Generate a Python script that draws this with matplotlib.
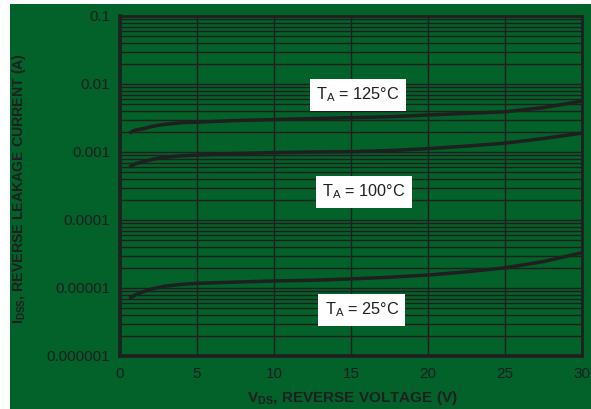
import matplotlib
matplotlib.use("Agg")
import matplotlib.pyplot as plt
from matplotlib.patches import Rectangle
from matplotlib.ticker import FixedLocator, FixedFormatter, LogLocator, NullFormatter

plt.rcParams['font.family'] = ['Liberation Sans', 'DejaVu Sans']
plt.rcParams['mathtext.fontset'] = 'custom'
plt.rcParams['mathtext.rm'] = 'Liberation Sans'
plt.rcParams['mathtext.bf'] = 'Liberation Sans:bold'
plt.rcParams['mathtext.it'] = 'Liberation Sans:italic'

# Drain-source reverse voltage (V)
v_ds = [0.6, 1, 1.5, 2, 2.5, 3, 4, 5, 7.5, 10, 12.5, 15, 17.5, 20, 22.5, 25, 27.5, 30]

# Reverse leakage current (A) at three ambient temperatures
i_125 = [0.0019, 0.0021, 0.0022, 0.00235, 0.00248, 0.00256, 0.0027, 0.00275, 0.0029, 0.0030,
         0.0031, 0.0032, 0.0033, 0.0035, 0.0037, 0.0039, 0.0045, 0.0056]
i_100 = [0.00060, 0.00067, 0.00072, 0.00077, 0.00081, 0.00084, 0.00088, 0.00090, 0.00095, 0.00098,
         0.00100, 0.00101, 0.00105, 0.00112, 0.00122, 0.00135, 0.00158, 0.00190]
i_25 = [7.0e-6, 7.9e-6, 8.8e-6, 9.6e-6, 1.02e-5, 1.07e-5, 1.13e-5, 1.17e-5, 1.22e-5, 1.27e-5,
        1.30e-5, 1.36e-5, 1.44e-5, 1.55e-5, 1.73e-5, 1.98e-5, 2.45e-5, 3.3e-5]

x_ticks = [0, 5, 10, 15, 20, 25, 30]
y_ticks = [1e-6, 1e-5, 1e-4, 1e-3, 1e-2, 1e-1]
y_tick_labels = ["0.000001", "0.00001", "0.0001", "0.001", "0.01", "0.1"]

curve_labels = ["T$_\\mathregular{A}$ = 125°C", "T$_\\mathregular{A}$ = 100°C", "T$_\\mathregular{A}$ = 25°C"]
label_pos = [(15.45, 0.0069), (15.85, 2.6e-4), (15.7, 4.75e-6)]

GREEN = "#03612a"
INK = "#1f1f1f"

fig = plt.figure(figsize=(5.91, 4.09), dpi=100, facecolor="white")
fig.patches.append(Rectangle((10 / 591, 0), 1 - 10 / 591, 1 - 4 / 409,
                             transform=fig.transFigure, facecolor=GREEN,
                             edgecolor="none", zorder=-10))

ax = fig.add_axes([120 / 591, (409 - 356) / 409, 462 / 591, 340 / 409])
ax.set_facecolor(GREEN)
ax.set_yscale("log")
ax.set_xlim(0, 30)
ax.set_ylim(1e-6, 1e-1)

ax.xaxis.set_major_locator(FixedLocator(x_ticks))
ax.yaxis.set_major_locator(FixedLocator(y_ticks))
ax.yaxis.set_major_formatter(FixedFormatter(y_tick_labels))
ax.yaxis.set_minor_locator(LogLocator(base=10, subs=range(2, 10)))
ax.yaxis.set_minor_formatter(NullFormatter())

ax.grid(True, which="major", axis="both", color=INK, linewidth=1.0)
ax.grid(True, which="minor", axis="y", color=INK, linewidth=1.0)
ax.set_axisbelow(True)

ax.tick_params(axis="both", which="both", length=0, labelsize=11, colors=INK)
ax.tick_params(axis="y", pad=7)
ax.tick_params(axis="x", pad=8)

for side, lw in (("left", 2.6), ("bottom", 2.6), ("top", 2.0), ("right", 2.0)):
    ax.spines[side].set_color(INK)
    ax.spines[side].set_linewidth(lw)

for series in (i_125, i_100, i_25):
    ax.plot(v_ds, series, color=INK, linewidth=2.5, solid_capstyle="butt",
            solid_joinstyle="round", zorder=3)

for text, (x, y) in zip(curve_labels, label_pos):
    ax.text(x, y, text, fontsize=11.7, color=INK, ha="center", va="center", zorder=4,
            bbox=dict(boxstyle="square,pad=0.4", facecolor="white", edgecolor="none"))

ax.set_xlabel("V$_\\mathbf{DS}$, REVERSE VOLTAGE (V)", fontsize=11,
              fontweight="bold", color=INK)
ax.set_ylabel("I$_\\mathbf{DSS}$, REVERSE LEAKAGE CURRENT (A)", fontsize=10.2,
              fontweight="bold", color=INK)
ax.xaxis.set_label_coords((352 - 120) / 462, (356 - 398) / 340)
ax.xaxis.label.set_va("center")
ax.yaxis.set_label_coords((19 - 120) / 462, (356 - 189) / 340)
ax.yaxis.label.set_va("center")

fig.savefig("out.png", dpi=100, facecolor="white")
